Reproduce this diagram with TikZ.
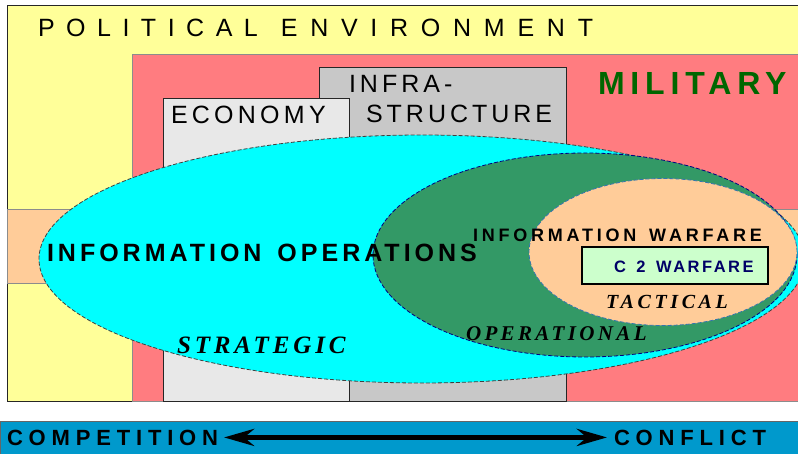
\documentclass[tikz,border=0pt]{standalone}
\usepackage{fontspec}
\setmainfont{Liberation Sans}
\newfontfamily\serifbi{Liberation Serif}[BoldItalicFont=* Bold Italic]
\usetikzlibrary{shapes.geometric,arrows.meta}

\definecolor{polyellow}{HTML}{FFFF99}
\definecolor{milred}{HTML}{FF7C80}
\definecolor{econgray}{HTML}{E8E8E8}
\definecolor{infragray}{HTML}{C8C8C8}
\definecolor{bandorange}{HTML}{FFCC99}
\definecolor{stratcyan}{HTML}{00FFFF}
\definecolor{opsgreen}{HTML}{339966}
\definecolor{tacpeach}{HTML}{FFCC99}
\definecolor{ctwogreen}{HTML}{CCFFCC}
\definecolor{barblue}{HTML}{0099CC}
\definecolor{milgreen}{HTML}{006600}
\definecolor{navytext}{HTML}{000066}

\tikzset{
  area/.style={anchor=north west, inner sep=0pt, outer sep=0pt, line width=0.9pt},
  zone/.style={ellipse, inner sep=0pt, outer sep=0pt, line width=0.8pt,
               dash pattern=on 4pt off 2pt},
  label/.style={anchor=base west, inner sep=0pt, outer sep=0pt},
  levelname/.style={label, font=\serifbi\bfseries\itshape},
}

% letter-spaced caption text
\newcommand{\spaced}[2]{{\addfontfeature{LetterSpace=#1}#2}}

\begin{document}
\begin{tikzpicture}[x=1pt, y=-1pt]
  \useasboundingbox (0,0) rectangle (798,454);
  \clip (0,0) rectangle (798,454);
  \fill[white] (0,0) rectangle (798,454);

  % domains
  \node[area, draw=black!85, fill=polyellow,
        minimum width=800pt, minimum height=396pt] (political) at (7,5) {};
  \node[area, draw=black!45, fill=milred,
        minimum width=680pt, minimum height=347pt] (military) at (132,54) {};
  \node[area, draw=black!45, fill=bandorange,
        minimum width=800pt, minimum height=74pt] (band) at (7,209) {};
  \node[area, draw=black!85, fill=infragray,
        minimum width=247pt, minimum height=334pt] (infra) at (319,67) {};
  \node[area, draw=black!85, fill=econgray,
        minimum width=186pt, minimum height=303pt] (economy) at (163,98) {};

  % levels of information activity
  \node[zone, draw=black!75, fill=stratcyan,
        minimum width=766pt, minimum height=248pt] (strategic) at (422,259) {};
  \node[zone, draw=blue!50!black, fill=opsgreen,
        minimum width=424pt, minimum height=204pt] (operational) at (585,255) {};
  \node[zone, draw=cyan!60!blue!80!black, fill=tacpeach,
        minimum width=268pt, minimum height=147pt] (tactical) at (663,252) {};

  \node[area, draw=black, fill=ctwogreen, line width=1.4pt,
        minimum width=186pt, minimum height=37pt] (ctwo) at (582,247) {};

  % domain labels
  \node[label, font=\fontsize{25}{25}\selectfont] (polt) at (38,37)
       {\spaced{46}{POLITICAL}\hspace{23pt}\spaced{51}{ENVIRONMENT}};
  \node[label, font=\fontsize{25}{25}\selectfont] (econt) at (171,124)
       {\spaced{17}{ECONOMY}};
  \node[label, font=\fontsize{25}{25}\selectfont] (infrat) at (349,93)
       {\spaced{16}{INFRA-}};
  \node[label, font=\fontsize{25}{25}\selectfont] (structt) at (366,123)
       {\spaced{16}{STRUCTURE}};
  \node[label, font=\fontsize{32}{32}\selectfont\bfseries, text=milgreen] (milt) at (598,95)
       {\spaced{18.3}{MILITARY}};

  % activity labels
  \node[label, font=\fontsize{25}{25}\selectfont\bfseries] (iot) at (47,262)
       {\spaced{16}{INFORMATION\kern5pt\ OPERATIONS}};
  \node[label, font=\fontsize{18}{18}\selectfont\bfseries] (iwt) at (473,242)
       {\spaced{21}{INFORMATION\kern4pt\ WARFARE}};
  \node[label, font=\fontsize{16.5}{16.5}\selectfont\bfseries, text=navytext] (ctwot) at (614,273)
       {\spaced{15}{C\kern3.5pt\ 2\kern3.5pt\ WARFARE}};

  % level labels
  \node[levelname, font=\fontsize{25}{25}\serifbi\bfseries\itshape] (stratt) at (177,354)
       {\spaced{15.5}{STRATEGIC}};
  \node[levelname, font=\fontsize{21}{21}\serifbi\bfseries\itshape] (opt) at (466,341)
       {\spaced{16}{OPERATIONAL}};
  \node[levelname, font=\fontsize{20}{20}\serifbi\bfseries\itshape] (tact) at (606,309)
       {\spaced{18}{TACTICAL}};

  % competition--conflict scale
  \node[area, draw=black!60, fill=barblue, line width=0.8pt,
        minimum width=800pt, minimum height=40pt] (bar) at (0,421) {};
  \node[label, font=\fontsize{22}{22}\selectfont\bfseries] (comp) at (7,445)
       {\spaced{26.5}{COMPETITION}};
  \node[label, font=\fontsize{22}{22}\selectfont\bfseries] (conf) at (614,445)
       {\spaced{26.5}{CONFLICT}};
  \draw[line width=5pt,
        {Stealth[length=30pt, width=17pt, inset=10pt]}-{Stealth[length=30pt, width=17pt, inset=10pt]},
        shorten <=6pt, shorten >=7pt]
       (comp.east) -- (conf.west);
\end{tikzpicture}
\end{document}
